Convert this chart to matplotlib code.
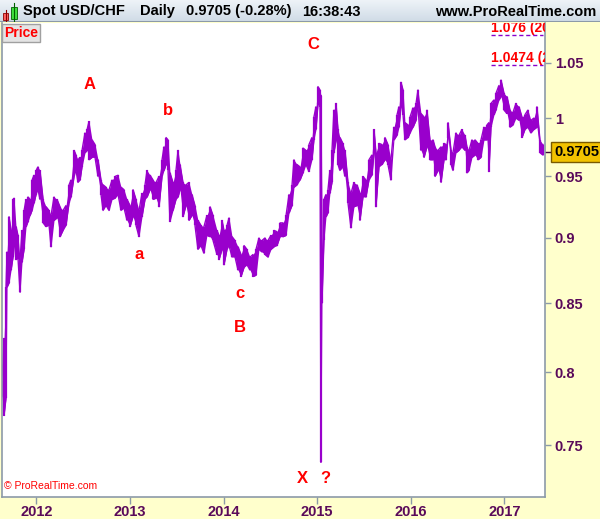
import numpy as np
import matplotlib
matplotlib.use("Agg")
import matplotlib.pyplot as plt
from matplotlib.patches import Rectangle
from matplotlib.ticker import FixedLocator, FixedFormatter, NullLocator
import matplotlib.transforms as mtransforms

plt.rcParams['font.family'] = ['Liberation Sans', 'DejaVu Sans']

# ==============================
# Data: date as decimal year, high / low of each bar
# ==============================
dates = [
    2011.632, 2011.654, 2011.675, 2011.686, 2011.707, 2011.729, 2011.750, 2011.761, 2011.782, 2011.803,
    2011.825, 2011.846, 2011.868, 2011.889, 2011.910, 2011.932, 2011.953, 2011.974, 2011.996, 2012.017,
    2012.038, 2012.071, 2012.103, 2012.135, 2012.156, 2012.188, 2012.220, 2012.252, 2012.284, 2012.316,
    2012.348, 2012.370, 2012.402, 2012.423, 2012.444, 2012.466, 2012.487, 2012.519, 2012.541, 2012.562,
    2012.594, 2012.626, 2012.658, 2012.690, 2012.712, 2012.744, 2012.776, 2012.808, 2012.840, 2012.872,
    2012.904, 2012.936, 2012.968, 2013.000, 2013.032, 2013.064, 2013.096, 2013.128, 2013.160, 2013.182,
    2013.214, 2013.246, 2013.278, 2013.310, 2013.342, 2013.363, 2013.385, 2013.406, 2013.427, 2013.459,
    2013.491, 2013.513, 2013.534, 2013.566, 2013.598, 2013.630, 2013.662, 2013.694, 2013.726, 2013.758,
    2013.790, 2013.822, 2013.855, 2013.887, 2013.929, 2013.951, 2013.983, 2014.004, 2014.036, 2014.058,
    2014.090, 2014.122, 2014.154, 2014.186, 2014.218, 2014.250, 2014.282, 2014.314, 2014.346, 2014.378,
    2014.410, 2014.442, 2014.474, 2014.506, 2014.538, 2014.570, 2014.603, 2014.635, 2014.667, 2014.699,
    2014.731, 2014.752, 2014.784, 2014.816, 2014.848, 2014.880, 2014.912, 2014.944, 2014.965, 2014.987,
    2015.008, 2015.030, 2015.040, 2015.051, 2015.072, 2015.094, 2015.115, 2015.136, 2015.158, 2015.179,
    2015.201, 2015.222, 2015.243, 2015.275, 2015.297, 2015.329, 2015.361, 2015.393, 2015.425, 2015.457,
    2015.489, 2015.521, 2015.553, 2015.585, 2015.607, 2015.628, 2015.660, 2015.692, 2015.724, 2015.756,
    2015.788, 2015.820, 2015.853, 2015.874, 2015.895, 2015.917, 2015.938, 2015.970, 2015.992, 2016.024,
    2016.056, 2016.077, 2016.109, 2016.141, 2016.173, 2016.205, 2016.237, 2016.259, 2016.291, 2016.323,
    2016.355, 2016.376, 2016.398, 2016.430, 2016.451, 2016.483, 2016.515, 2016.547, 2016.579, 2016.600,
    2016.622, 2016.654, 2016.686, 2016.718, 2016.750, 2016.782, 2016.814, 2016.835, 2016.857, 2016.889,
    2016.910, 2016.942, 2016.964, 2016.996, 2017.028, 2017.060, 2017.092, 2017.124, 2017.156, 2017.188,
    2017.220, 2017.252, 2017.284, 2017.316, 2017.348, 2017.380, 2017.412,
]
highs = [
    0.794, 0.824, 0.862, 0.889, 0.917, 0.906, 0.931, 0.932, 0.909, 0.902,
    0.883, 0.906, 0.922, 0.931, 0.933, 0.931, 0.947, 0.951, 0.955, 0.958,
    0.955, 0.931, 0.925, 0.922, 0.918, 0.933, 0.931, 0.925, 0.922, 0.926,
    0.943, 0.947, 0.972, 0.968, 0.964, 0.966, 0.972, 0.987, 0.990, 0.997,
    0.981, 0.977, 0.964, 0.947, 0.943, 0.941, 0.939, 0.947, 0.950, 0.951,
    0.941, 0.939, 0.931, 0.926, 0.939, 0.931, 0.922, 0.936, 0.943, 0.955,
    0.951, 0.947, 0.945, 0.950, 0.964, 0.975, 0.983, 0.981, 0.953, 0.945,
    0.955, 0.972, 0.960, 0.945, 0.943, 0.945, 0.935, 0.926, 0.914, 0.910,
    0.909, 0.918, 0.925, 0.918, 0.906, 0.902, 0.914, 0.906, 0.910, 0.916,
    0.901, 0.898, 0.893, 0.887, 0.894, 0.891, 0.885, 0.887, 0.891, 0.900,
    0.898, 0.900, 0.898, 0.902, 0.906, 0.905, 0.912, 0.912, 0.918, 0.935,
    0.943, 0.964, 0.960, 0.958, 0.974, 0.972, 0.977, 0.983, 1.001, 1.010,
    1.028, 1.025, 1.020, 0.891, 0.931, 0.935, 0.939, 0.955, 0.972, 1.007,
    1.013, 0.990, 0.983, 0.978, 0.972, 0.945, 0.936, 0.945, 0.943, 0.936,
    0.950, 0.947, 0.964, 0.968, 0.990, 0.970, 0.978, 0.977, 0.983, 0.977,
    0.964, 0.992, 1.003, 1.010, 1.032, 1.025, 0.996, 0.994, 1.001, 1.009,
    1.013, 1.025, 1.004, 1.001, 1.007, 0.981, 0.981, 0.975, 0.972, 0.975,
    0.978, 0.977, 0.996, 0.972, 0.970, 0.987, 0.985, 0.990, 0.985, 0.975,
    0.972, 0.981, 0.981, 0.978, 0.981, 0.992, 0.994, 0.996, 1.013, 1.016,
    1.022, 1.029, 1.034, 1.022, 1.019, 1.007, 1.005, 1.013, 1.010, 1.001,
    1.003, 1.007, 0.998, 1.000, 1.010, 0.981, 0.977,
]
lows = [
    0.783, 0.770, 0.782, 0.862, 0.865, 0.875, 0.885, 0.898, 0.883, 0.884,
    0.858, 0.881, 0.891, 0.909, 0.913, 0.918, 0.922, 0.928, 0.935, 0.939,
    0.931, 0.912, 0.909, 0.910, 0.893, 0.914, 0.916, 0.901, 0.906, 0.910,
    0.928, 0.933, 0.950, 0.955, 0.945, 0.947, 0.958, 0.970, 0.972, 0.964,
    0.966, 0.966, 0.950, 0.935, 0.922, 0.926, 0.922, 0.931, 0.932, 0.935,
    0.922, 0.924, 0.914, 0.909, 0.917, 0.910, 0.901, 0.917, 0.931, 0.933,
    0.939, 0.931, 0.932, 0.925, 0.950, 0.955, 0.960, 0.955, 0.913, 0.922,
    0.931, 0.933, 0.939, 0.917, 0.926, 0.914, 0.918, 0.910, 0.891, 0.894,
    0.888, 0.902, 0.901, 0.898, 0.887, 0.883, 0.891, 0.879, 0.891, 0.894,
    0.885, 0.885, 0.875, 0.870, 0.877, 0.879, 0.875, 0.870, 0.871, 0.891,
    0.889, 0.887, 0.885, 0.891, 0.893, 0.894, 0.901, 0.901, 0.902, 0.920,
    0.926, 0.941, 0.943, 0.947, 0.953, 0.960, 0.954, 0.964, 0.981, 0.990,
    1.012, 1.010, 0.739, 0.850, 0.898, 0.917, 0.920, 0.936, 0.945, 0.970,
    0.981, 0.960, 0.955, 0.958, 0.950, 0.928, 0.908, 0.925, 0.926, 0.914,
    0.933, 0.933, 0.947, 0.951, 0.970, 0.925, 0.958, 0.960, 0.964, 0.960,
    0.947, 0.981, 0.985, 0.992, 1.010, 1.003, 0.981, 0.983, 0.987, 0.992,
    0.998, 1.010, 0.972, 0.966, 0.975, 0.964, 0.964, 0.950, 0.955, 0.945,
    0.964, 0.964, 0.983, 0.960, 0.955, 0.970, 0.972, 0.975, 0.972, 0.953,
    0.955, 0.966, 0.968, 0.964, 0.966, 0.981, 0.981, 0.954, 0.992, 1.003,
    1.007, 1.016, 1.019, 1.007, 1.004, 0.992, 0.994, 1.000, 0.998, 0.983,
    0.990, 0.992, 0.987, 0.990, 0.992, 0.970, 0.968,
]
last_price = 0.9705

year_ticks = [2012, 2013, 2014, 2015, 2016, 2017]
price_ticks = [0.75, 0.8, 0.85, 0.9, 0.95, 1.0, 1.05]
price_labels = ["0.75", "0.8", "0.85", "0.9", "0.95", "1", "1.05"]

# wave labels: (text, date, price)
wave_labels = [
    ("A", 2012.573, 1.030), ("b", 2013.406, 1.007), ("a", 2013.096, 0.8867),
    ("C", 2014.955, 1.067), ("c", 2014.175, 0.8575), ("B", 2014.175, 0.832),
    ("X", 2014.837, 0.7288), ("?", 2015.083, 0.7288),
]
# target levels: (text, price of the level)
targets = [("1.076 (2011)", 1.076), ("1.0474 (2015)", 1.0474)]

PURPLE = "#9900cc"
AXIS_TXT = "#5a0a5a"
YELLOW = "#ffffcc"
GRID_GRAY = "#8c9aa8"

# ==============================
# Figure
# ==============================
fig = plt.figure(figsize=(6, 5.19), dpi=100, facecolor=YELLOW)
ax = fig.add_axes([2 / 600, 22 / 519, 543 / 600, 474 / 519])
ax.set_facecolor("white")

# dense daily bars: band between lows and highs + bars + zigzag texture
ax.fill_between(dates, lows, highs, color=PURPLE, lw=0)
ax.vlines(dates, lows, highs, color=PURPLE, lw=1.6)
zx, zy = [], []
for i, (d, lo, hi) in enumerate(zip(dates, lows, highs)):
    zx += [d, d]
    zy += [lo, hi] if i % 2 == 0 else [hi, lo]
ax.plot(zx, zy, color=PURPLE, lw=1.0)

ax.set_yscale("log")
ax.set_xlim(2011.632, 2017.434)
ax.set_ylim(0.7168, 1.0871)

ax.yaxis.tick_right()
ax.yaxis.set_major_locator(FixedLocator(price_ticks))
ax.yaxis.set_major_formatter(FixedFormatter(price_labels))
ax.yaxis.set_minor_locator(NullLocator())
ax.xaxis.set_major_locator(FixedLocator(year_ticks))
ax.set_xticklabels([str(y) for y in year_ticks])
ax.tick_params(axis="y", direction="out", length=4, width=1, color=GRID_GRAY,
               labelcolor=AXIS_TXT, labelsize=10.5, pad=3)
ax.tick_params(axis="x", direction="out", length=5, width=1, color=GRID_GRAY,
               labelcolor=AXIS_TXT, labelsize=10.5, pad=1)
for lab in ax.get_xticklabels() + ax.get_yticklabels():
    lab.set_fontweight("bold")
for side in ["left", "right", "bottom"]:
    ax.spines[side].set_color(GRID_GRAY)
    ax.spines[side].set_linewidth(1.2)
ax.spines["top"].set_visible(False)

# wave labels
for txt, d, p in wave_labels:
    ax.text(d, p, txt, color="#ff0000", fontsize=12, fontweight="bold",
            ha="center", va="center")

# target levels (clipped at the right edge like the platform does)
for txt, p in targets:
    ax.text(2016.86, p, txt, color="#ff0000", fontsize=10, fontweight="bold",
            ha="left", va="bottom", clip_on=True)
    ax.plot([2016.86, 2017.415], [p, p], color="#8800cc", lw=1,
            ls=(0, (3, 2)), clip_on=True)

# "Price" tag
ax.text(0.004, 0.993, "Price", transform=ax.transAxes, color="#ff0000",
        fontsize=10, fontweight="bold", ha="left", va="top",
        bbox=dict(boxstyle="square,pad=0.15", fc="#e4e4e4", ec="#a0a0a0", lw=1))

# watermark
ax.text(0.004, 0.012, "© ProRealTime.com", transform=ax.transAxes,
        color="#ff0000", fontsize=7.5, ha="left", va="bottom")

# last price box
trans = mtransforms.blended_transform_factory(ax.transAxes, ax.transData)
ax.plot([1.0, 1.012], [last_price, last_price], transform=trans,
        color="#3a0a3a", lw=1, clip_on=False)
ax.text(1.017, last_price, f"{last_price:.4f}", transform=trans, color="black",
        fontsize=10.5, fontweight="bold", ha="left", va="center",
        bbox=dict(boxstyle="square,pad=0.2", fc="#f2c200", ec="#7a5a00", lw=1))

# ==============================
# Header bar
# ==============================
hax = fig.add_axes([0, 497 / 519, 1, 22 / 519])
grad = np.linspace(0, 1, 50).reshape(-1, 1)
hax.imshow(grad, aspect="auto", cmap=matplotlib.colors.LinearSegmentedColormap.from_list(
    "hdr", ["#eef3f8", "#cfdbe6"]), extent=[0, 600, 22, 0])
hax.set_xlim(0, 600)
hax.set_ylim(22, 0)
hax.axis("off")
hax.axhline(21.5, color=GRID_GRAY, lw=1.5)
# little candle icon
hax.plot([5.5, 5.5], [10, 21], color="#8b0000", lw=0.8)
hax.add_patch(Rectangle((3, 13), 5, 7, fc="#ff6060", ec="#8b0000", lw=0.6))
hax.plot([14, 14], [3, 21], color="#006000", lw=0.8)
hax.add_patch(Rectangle((11, 7), 6, 12, fc="#40e040", ec="#006000", lw=0.6))
hax.text(23, 11.5, "Spot USD/CHF", fontsize=10.5, fontweight="bold", va="center", ha="left")
hax.text(140, 11.5, "Daily", fontsize=10.5, fontweight="bold", va="center", ha="left")
hax.text(186, 11.5, "0.9705 (-0.28%)", fontsize=10.5, fontweight="bold", va="center", ha="left")
hax.text(302, 11.5, "16:38:43", fontsize=10.5, fontweight="bold", va="center", ha="left")
hax.text(596, 11.5, "www.ProRealTime.com", fontsize=10.5, fontweight="bold",
         va="center", ha="right")

fig.savefig("out.png", dpi=100, facecolor=YELLOW)
